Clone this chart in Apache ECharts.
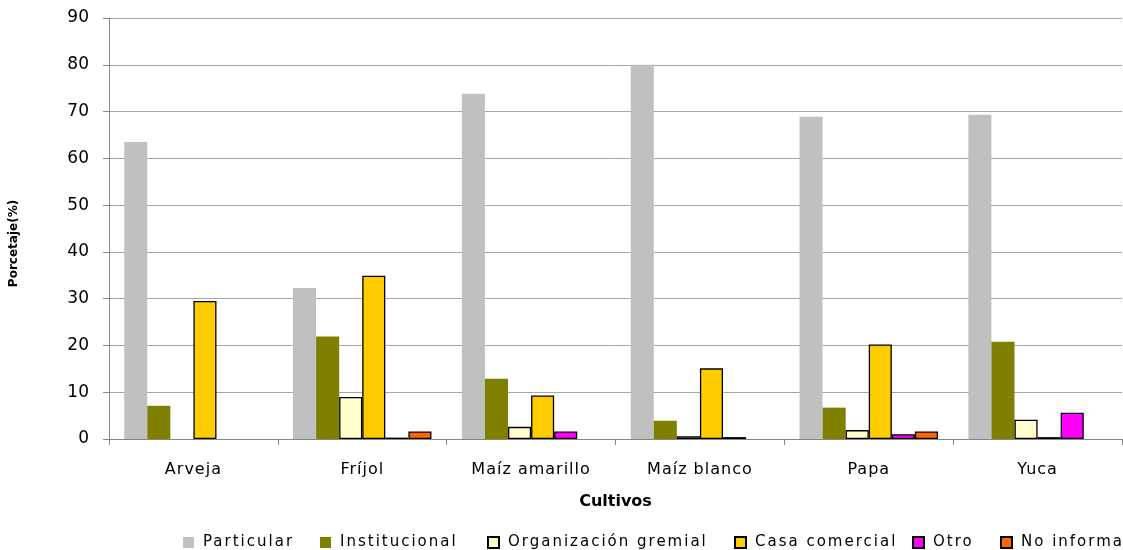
<!DOCTYPE html>
<html>
<head>
<meta charset="utf-8">
<script src="https://cdn.jsdelivr.net/npm/echarts@6/dist/echarts.min.js"></script>
<style>
html,body{margin:0;padding:0;background:#fff;}
#chart{width:1123px;height:550px;}
</style>
</head>
<body>
<div id="chart"></div>
<script>
const categories = ['Arveja', 'Fríjol', 'Maíz amarillo', 'Maíz blanco', 'Papa', 'Yuca'];
const particular = [63.5, 32.3, 73.8, 80.0, 68.9, 69.3];
const institucional = [7.1, 21.9, 12.9, 3.9, 6.7, 20.8];
const organizacionGremial = [null, 9.0, 2.6, 0.6, 1.9, 4.1];
const casaComercial = [29.5, 34.9, 9.3, 15.1, 20.2, 0.4];
const otro = [null, 0.3, 1.6, 0.4, 1.0, 5.6];
const noInforma = [null, 1.6, null, null, 1.6, null];
const yTicks = { min: 0, max: 90, interval: 10 };

// letter spacing for spaced-out text (legend, category labels)
(function () {
  const proto = CanvasRenderingContext2D.prototype;
  const orig = proto.fillText;
  proto.fillText = function () {
    const f = this.font || '';
    const prev = this.letterSpacing;
    let ls = '0px';
    if (f.indexOf('bold') < 0) {
      if (f.indexOf('15px') >= 0) ls = '2px';
      else if (f.indexOf('16px') >= 0) ls = '1px';
    }
    if ('letterSpacing' in this) this.letterSpacing = ls;
    const r = orig.apply(this, arguments);
    if ('letterSpacing' in this) this.letterSpacing = prev;
    return r;
  };
})();

const FONT = '"DejaVu Sans", Verdana, sans-serif';
const names = ['Particular', 'Institucional', 'Organización gremial', 'Casa comercial', 'Otro', 'No informa'];
const values = [particular, institucional, organizacionGremial, casaComercial, otro, noInforma];
const colors = ['#c0c0c0', '#808000', '#ffffcc', '#ffcc00', '#ff00ff', '#ff6600'];
const bordered = [false, false, true, true, true, true];
const legendLeft = [183, 320, 487, 734, 912, 1000];

const series = names.map((n, i) => ({
  name: n,
  type: 'bar',
  data: values[i],
  barGap: '0%',
  barCategoryGap: '18%',
  itemStyle: {
    color: colors[i],
    borderColor: bordered[i] ? '#000' : colors[i],
    borderWidth: bordered[i] ? 1.3 : 0
  }
}));

const legends = names.map((n, i) => ({
  data: [n],
  left: legendLeft[i],
  top: 535,
  padding: 0,
  orient: 'horizontal',
  icon: 'rect',
  itemWidth: 11,
  itemHeight: 11,
  itemGap: 6,
  selectedMode: false,
  textStyle: { fontFamily: FONT, fontSize: 15, color: '#000', padding: [0, 0, 0, 4] }
}));

const chart = echarts.init(document.getElementById('chart'), null, { renderer: 'canvas' });
chart.setOption({
  animation: false,
  backgroundColor: '#fff',
  grid: { left: 109, right: 1, top: 18, bottom: 111, containLabel: false },
  legend: legends,
  xAxis: {
    type: 'category',
    data: categories,
    name: 'Cultivos',
    nameLocation: 'middle',
    nameGap: 55,
    nameTextStyle: { fontFamily: FONT, fontWeight: 'bold', fontSize: 16, color: '#000' },
    axisLine: { show: true, lineStyle: { color: '#868686', width: 1 } },
    axisTick: { show: true, alignWithLabel: false, length: 6, lineStyle: { color: '#868686' } },
    axisLabel: { fontFamily: FONT, fontSize: 16, color: '#000', margin: 23 },
    splitLine: { show: false }
  },
  yAxis: {
    type: 'value',
    min: yTicks.min,
    max: yTicks.max,
    interval: yTicks.interval,
    name: 'Porcetaje(%)',
    nameLocation: 'middle',
    nameRotate: 90,
    nameGap: 89,
    nameTextStyle: { fontFamily: FONT, fontWeight: 'bold', fontSize: 12, color: '#000', padding: [0, 30, 0, 0] },
    axisLine: { show: true, lineStyle: { color: '#868686', width: 1 } },
    axisTick: { show: true, length: 6, lineStyle: { color: '#868686' } },
    axisLabel: { fontFamily: FONT, fontSize: 17, color: '#000', margin: 20 },
    splitLine: { show: true, lineStyle: { color: '#a6a6a6', width: 1 } }
  },
  series: series
});
</script>
</body>
</html>
